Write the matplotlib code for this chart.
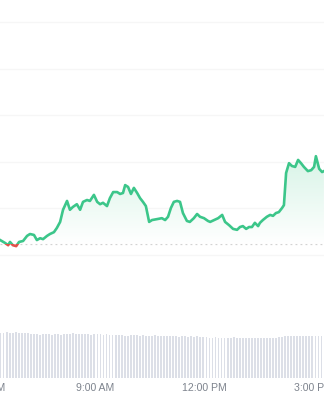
import numpy as np
import matplotlib.pyplot as plt
from matplotlib.colors import LinearSegmentedColormap
from matplotlib.patches import Rectangle, Polygon

plt.rcParams['font.family'] = ['Liberation Sans', 'DejaVu Sans']

# price path (time in hours of day, price in arbitrary grid units)
hours = [6.39, 6.52, 6.61, 6.66, 6.74, 6.83, 6.91, 7.02, 7.13, 7.21, 7.32, 7.40,
         7.49, 7.57, 7.68, 7.76, 7.87, 7.95, 8.04, 8.12, 8.23, 8.31, 8.39, 8.50,
         8.59, 8.67, 8.78, 8.86, 8.97, 9.06, 9.14, 9.22, 9.33, 9.41, 9.50, 9.61,
         9.69, 9.77, 9.83, 9.91, 9.99, 10.07, 10.16, 10.24, 10.32, 10.40, 10.49,
         10.57, 10.71, 10.84, 10.93, 11.01, 11.09, 11.17, 11.26, 11.34, 11.42,
         11.53, 11.61, 11.72, 11.81, 11.89, 12.00, 12.11, 12.17, 12.28, 12.39,
         12.50, 12.58, 12.69, 12.80, 12.91, 12.99, 13.07, 13.16, 13.24, 13.32,
         13.40, 13.49, 13.54, 13.62, 13.73, 13.82, 13.90, 13.98, 14.06, 14.15,
         14.20, 14.26, 14.34, 14.42, 14.51, 14.59, 14.67, 14.75, 14.86, 14.95,
         15.03, 15.08, 15.17, 15.25, 15.30]
price = [0.32, 0.26, 0.21, 0.28, 0.21, 0.19, 0.28, 0.30, 0.41, 0.45, 0.43, 0.32,
         0.36, 0.34, 0.41, 0.45, 0.49, 0.58, 0.71, 0.97, 1.16, 0.97, 1.03, 1.09,
         0.97, 1.14, 1.18, 1.16, 1.29, 1.14, 1.09, 1.12, 1.05, 1.22, 1.35, 1.35,
         1.31, 1.33, 1.50, 1.46, 1.31, 1.44, 1.33, 1.22, 1.14, 1.05, 0.71,
         0.75, 0.77, 0.79, 0.75, 0.82, 1.01, 1.14, 1.16, 1.14, 0.90,
         0.73, 0.71, 0.79, 0.88, 0.82, 0.79, 0.73, 0.71, 0.75, 0.79,
         0.86, 0.71, 0.64, 0.56, 0.54, 0.60, 0.62, 0.56, 0.60, 0.60,
         0.69, 0.62, 0.69, 0.75, 0.82, 0.86, 0.84, 0.90, 0.92, 1.01,
         1.07, 1.76, 1.97, 1.91, 1.89, 2.04, 1.97, 1.89, 1.80, 1.82,
         1.89, 2.12, 1.85, 1.78, 1.80]
open_price = 0.236

# 5-minute volume bars
vol_start = 6.40
volume = [45.5, 45, 46, 45.5, 45, 46, 45.5, 45, 45.5, 45,
          44, 44.5, 44, 43.5, 44, 44, 44.5, 43.5, 44, 44, 43.5, 44, 44.5, 44.5,
          45, 44.5, 44, 44, 44.5, 44, 43.5, 44, 44,
          44, 43.5, 44, 43, 43.5, 43, 43, 43.5, 42.5, 42.5, 43, 43, 43, 42.5,
          43, 42.5, 42.5, 42, 43, 42.5, 42.5,
          42, 42, 42.5, 42, 42, 41.5, 42, 42, 41.5, 42, 41.5, 42, 41.5, 41, 41,
          40.5, 40.5, 41, 40, 40.5, 40.5, 40, 40.5, 41, 40.5, 40, 40.5, 40,
          40.5, 40, 40, 40.5, 40, 40, 40.5, 40, 40.5, 40, 41, 41,
          42, 42.5, 42, 42, 42.5, 42, 42, 42.5, 42, 42, 42.5, 42, 42]

tick_hours = [6, 9, 12, 15]
tick_labels = ['6:00 AM', '9:00 AM', '12:00 PM', '3:00 PM']

GREEN = '#3cc68a'
RED = '#e0524a'
x_lo, x_hi = 6.385, 15.303

fig = plt.figure(figsize=(3.24, 4.0), dpi=100)
ax = fig.add_axes([0, 0.25, 1, 0.75])
axv = fig.add_axes([0, 22 / 400, 1, 58 / 400])

# price panel
ax.set_xlim(x_lo, x_hi)
ax.set_ylim(-0.966, 5.472)
for g in range(6):
    ax.axhline(g, color='#f6f6f6', lw=1, zorder=0)
ax.axhline(open_price, color='#d2d2d2', lw=0.9, ls=(0, (1.5, 2.5)), zorder=1)

# gradient fill between line and open price
t = np.array(hours)
p = np.array(price)
grad = np.linspace(0, 1, 256).reshape(-1, 1)
cmap = LinearSegmentedColormap.from_list('g', ['#ffffff', '#d8f4e7'])
img = ax.imshow(grad, extent=[x_lo, x_hi, open_price, p.max()], origin='lower',
                aspect='auto', cmap=cmap, zorder=1)
poly = Polygon(np.column_stack([np.r_[t[0], t, t[-1]], np.r_[open_price, p, open_price]]),
               closed=True, transform=ax.transData, facecolor='none', edgecolor='none')
ax.add_patch(poly)
img.set_clip_path(poly)

# green above the open price, red below
up, = ax.plot(t, p, color=GREEN, lw=1.9, zorder=3, solid_joinstyle='round')
dn, = ax.plot(t, p, color=RED, lw=1.9, zorder=3, solid_joinstyle='round')
up.set_clip_path(Rectangle((x_lo - 1, open_price), 20, 20, transform=ax.transData))
dn.set_clip_path(Rectangle((x_lo - 1, open_price - 20), 20, 20, transform=ax.transData))
ax.axis('off')

# volume panel
vt = vol_start + np.arange(len(volume)) * 5 / 60
axv.bar(vt, volume, width=0.05, color='#dcdfe7', edgecolor='none')
axv.set_xlim(x_lo, x_hi)
axv.set_ylim(0, 58)
for s in axv.spines.values():
    s.set_visible(False)
axv.set_yticks([])
axv.set_xticks([])
for h, lab in zip(tick_hours, tick_labels):
    axv.text(h, -10, lab, ha='center', va='center', fontsize=7.6,
             color='#7d838d', clip_on=False)

fig.savefig('out.png', dpi=100)
